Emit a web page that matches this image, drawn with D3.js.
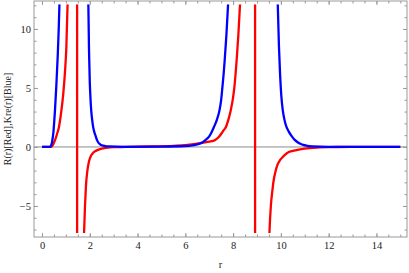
<!DOCTYPE html>
<html>
<head>
    <meta charset="utf-8">
    <script src="https://d3js.org/d3.v7.min.js"></script>
    <style>
        body { margin: 0; background: #fff; }
        text { font-family: "Liberation Serif", "DejaVu Serif", serif; }
    </style>
</head>
<body>
    <div id="chart"></div>
    <script>
        // tick labels
        const xTicks = [0, 2, 4, 6, 8, 10, 12, 14];
        const yTicks = [-5, 0, 5, 10];

        // R(r) - red, split at the poles  [r, value]
        const red1 = [[0, 0], [0.35, 0], [0.4, 0.03], [0.45, 0.15], [0.5, 0.35], [0.55, 0.6], [0.63, 1.1],
            [0.71, 1.7], [0.8, 2.9], [0.89, 4.5], [0.96, 6.3], [1.02, 8.5], [1.07, 12.1]];
        const red2 = [[1.47, 12.1], [1.47, -7.3]];
        const red3 = [[1.76, -7.3], [1.8, -5], [1.84, -3.3], [1.9, -2.0], [1.97, -1.2], [2.05, -0.75],
            [2.12, -0.55], [2.2, -0.4], [2.4, -0.2], [2.7, -0.07], [3.0, -0.02], [3.5, 0.0], [4.5, 0.04],
            [5.5, 0.1], [6.0, 0.15], [6.5, 0.28], [6.7, 0.36], [7.0, 0.45], [7.25, 0.6], [7.4, 0.85],
            [7.5, 1.1], [7.6, 1.4], [7.7, 1.7], [7.8, 2.3], [7.9, 3.1], [8.0, 4.2], [8.05, 5], [8.1, 6.1],
            [8.15, 7.4], [8.22, 9.5], [8.29, 12.1]];
        const red4 = [[8.92, 12.1], [8.92, -7.3]];
        const red5 = [[9.52, -7.3], [9.55, -6], [9.58, -5], [9.65, -3.6], [9.7, -2.8], [9.76, -2.2],
            [9.86, -1.5], [9.97, -1.1], [10.1, -0.8], [10.25, -0.53], [10.5, -0.33], [10.8, -0.2],
            [11.2, -0.09], [11.6, -0.04], [12, -0.01], [13, 0], [15, 0]];

        // Kre(r) - blue
        const blue1 = [[0, 0], [0.3, 0], [0.34, 0.02], [0.38, 0.12], [0.42, 0.4], [0.45, 0.8], [0.48, 1.3],
            [0.51, 2.1], [0.54, 3.0], [0.6, 5.2], [0.66, 7.8], [0.7, 10], [0.73, 12.1]];
        const blue2 = [[1.94, 12.1], [1.97, 8], [2.0, 5.5], [2.03, 4.1], [2.06, 3.1], [2.1, 2.3],
            [2.15, 1.6], [2.2, 1.2], [2.25, 0.9], [2.3, 0.6], [2.35, 0.4], [2.42, 0.25], [2.5, 0.15],
            [2.65, 0.08], [2.8, 0.05], [3.5, 0.01], [5, 0.03], [6, 0.08], [6.3, 0.14], [6.5, 0.22],
            [6.7, 0.36], [6.85, 0.6], [7.0, 0.9], [7.1, 1.25], [7.2, 1.7], [7.32, 2.3], [7.43, 3.1],
            [7.5, 4], [7.55, 5], [7.6, 6.1], [7.65, 7.4], [7.72, 9.5], [7.79, 12.1]];
        const blue3 = [[9.87, 12.1], [9.92, 8.5], [9.97, 6], [10.02, 4.3], [10.08, 3.1], [10.14, 2.4],
            [10.2, 1.9], [10.33, 1.3], [10.46, 0.9], [10.58, 0.6], [10.7, 0.4], [10.82, 0.27],
            [10.94, 0.17], [11.1, 0.1], [11.3, 0.05], [12, 0.01], [15, 0]];

        const redSegments = [red1, red2, red3, red4, red5];
        const blueSegments = [blue1, blue2, blue3];

        const W = 409, H = 273;
        const margin = { top: 1, right: 2, bottom: 36, left: 34 };
        const width = W - margin.left - margin.right,
            height = H - margin.top - margin.bottom;

        const svg = d3.select("#chart").append("svg")
            .attr("width", W).attr("height", H)
            .append("g")
            .attr("transform", "translate(" + margin.left + "," + margin.top + ")");

        const x = d3.scaleLinear().domain([-0.335, 15.28]).range([0, width]);
        const y = d3.scaleLinear().domain([-7.63, 12.37]).range([height, 0]);

        // clip to the plot range
        svg.append("clipPath").attr("id", "clip")
            .append("rect")
            .attr("x", x(-0.335)).attr("y", y(12.1))
            .attr("width", width).attr("height", y(-7.3) - y(12.1));

        // zero axis
        svg.append("line")
            .attr("x1", 0).attr("x2", width)
            .attr("y1", y(0)).attr("y2", y(0))
            .attr("stroke", "#8a8a8a").attr("stroke-width", 1);

        const line = d3.line()
            .x(d => x(d[0]))
            .y(d => y(d[1]))
            .curve(d3.curveMonotoneX);

        const curves = svg.append("g").attr("clip-path", "url(#clip)");
        curves.selectAll(".red").data(redSegments).enter().append("path")
            .attr("d", line).attr("fill", "none")
            .attr("stroke", "#ff0000").attr("stroke-width", 2.3).attr("stroke-linejoin", "round");
        curves.selectAll(".blue").data(blueSegments).enter().append("path")
            .attr("d", line).attr("fill", "none")
            .attr("stroke", "#0000ff").attr("stroke-width", 2.3).attr("stroke-linejoin", "round");

        // frame + ticks (inward, on all four sides)
        const frameColor = "#999";
        const xMinor = d3.range(0, 15.01, 0.5);
        const yMinor = d3.range(-7, 12.01, 1);

        function styleAxis(g) {
            g.select(".domain").remove();
            g.selectAll("line").attr("stroke", frameColor);
            g.selectAll("text").attr("fill", "#222").style("font-size", "10.5px")
                .style("font-family", "'Liberation Serif', serif");
        }

        svg.append("g").attr("transform", "translate(0," + height + ")")
            .call(d3.axisBottom(x).tickValues(xMinor).tickFormat("").tickSize(-2.5)).call(styleAxis);
        svg.append("g").attr("transform", "translate(0," + height + ")")
            .call(d3.axisBottom(x).tickValues(xTicks).tickFormat(d3.format("d")).tickSize(-4).tickPadding(5))
            .call(styleAxis);
        svg.append("g")
            .call(d3.axisTop(x).tickValues(xMinor).tickFormat("").tickSize(-2.5)).call(styleAxis);
        svg.append("g")
            .call(d3.axisTop(x).tickValues(xTicks).tickFormat("").tickSize(-4)).call(styleAxis);

        svg.append("g")
            .call(d3.axisLeft(y).tickValues(yMinor).tickFormat("").tickSize(-2.5)).call(styleAxis);
        svg.append("g")
            .call(d3.axisLeft(y).tickValues(yTicks).tickFormat(d3.format("d")).tickSize(-4).tickPadding(3))
            .call(styleAxis);
        svg.append("g").attr("transform", "translate(" + width + ",0)")
            .call(d3.axisRight(y).tickValues(yMinor).tickFormat("").tickSize(-2.5)).call(styleAxis);
        svg.append("g").attr("transform", "translate(" + width + ",0)")
            .call(d3.axisRight(y).tickValues(yTicks).tickFormat("").tickSize(-4)).call(styleAxis);

        svg.append("rect")
            .attr("x", 0).attr("y", 0).attr("width", width).attr("height", height)
            .attr("fill", "none").attr("stroke", frameColor).attr("stroke-width", 1);

        // axis titles
        svg.append("text")
            .attr("x", width / 2).attr("y", height + 31)
            .attr("text-anchor", "middle")
            .style("font-size", "10.5px").attr("fill", "#222")
            .text("r");

        svg.append("text")
            .attr("transform", "rotate(-90)")
            .attr("x", -height / 2).attr("y", -margin.left + 11)
            .attr("text-anchor", "middle")
            .style("font-size", "10px").attr("fill", "#222")
            .text("R(r)[Red],Kre(r)[Blue]");
    </script>
</body>
</html>
